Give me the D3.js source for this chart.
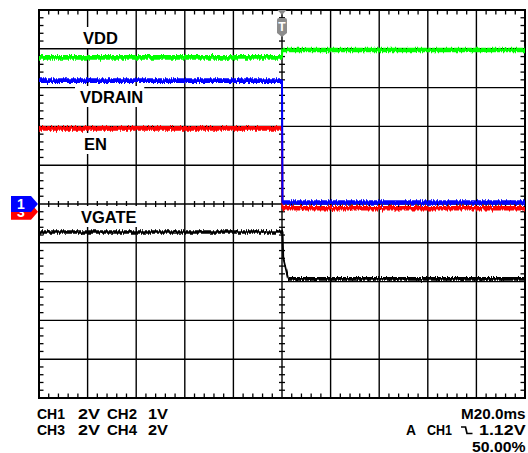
<!DOCTYPE html>
<html>
<head>
<meta charset="utf-8">
<script src="https://cdn.jsdelivr.net/npm/d3@7"></script>
<style>
  html, body { margin: 0; padding: 0; background: #fff; }
  svg { display: block; }
  text { font-family: "Liberation Sans", Arial, sans-serif; font-weight: bold; }
</style>
</head>
<body>
<svg id="chart" width="528" height="453"></svg>
<script>
// ---------- DATA (time in ms, level in divisions from screen centre) ----------
const timeRangeMs = [-100, 100];        // 20 ms/div, trigger at 0
const levelRangeDiv = [-5, 5];

const vddTrace    = [[-100, 3.78], [0.0, 3.78], [0.1, 3.97], [100, 3.97]];
const vdrainTrace = [[-100, 3.18], [0.0, 3.18], [0.2, 0.04], [100, 0.04]];
const enTrace     = [[-100, 1.95], [0.0, 1.95], [0.2, -0.11], [100, -0.11]];
const vgateTrace  = [[-100, -0.72], [0.2, -0.72], [0.5, -1.38], [2.6, -1.93], [100, -1.93]];

const traceNames  = ["VDD", "EN", "VGATE", "VDRAIN"];
const traceColors = ["#00ff00", "#ff0000", "#000000", "#0000ff"];

const channelMarkers = ["3", "1"];
const channelMarkerLevels = [-0.2, 0.0];
const channelMarkerColors = ["#ff0000", "#0000ff"];

const labelTexts = ["VDD", "VDRAIN", "EN", "VGATE"];

const settingsLeft = [["CH1", "2V", "CH2", "1V"], ["CH3", "2V", "CH4", "2V"]];
const timebaseText = "M20.0ms";
const triggerSource = ["A", "CH1"];
const triggerLevelText = "1.12V";
const triggerPosText = "50.00%";

// ---------- LAYOUT ----------
const svg = d3.select("#chart");
const L = 39, R = 525, T = 10, B = 398;
const x = d3.scaleLinear().domain(timeRangeMs).range([L, R]);
const y = d3.scaleLinear().domain(levelRangeDiv).range([B, T]);

// noise-like texture filter for traces (visual only)
const defs = svg.append("defs");
const f = defs.append("filter").attr("id", "rough")
  .attr("x", "-2%").attr("y", "-20%").attr("width", "104%").attr("height", "140%")
  .attr("color-interpolation-filters", "sRGB");
f.append("feTurbulence").attr("type", "fractalNoise").attr("baseFrequency", "0.8 0.04")
  .attr("numOctaves", 2).attr("seed", 7).attr("result", "turb");
f.append("feColorMatrix").attr("in", "turb").attr("type", "matrix")
  .attr("values", "0 0 0 0 0.5  0 1 0 0 0  0 0 1 0 0  0 0 0 0 1").attr("result", "map");
f.append("feDisplacementMap").attr("in", "SourceGraphic").attr("in2", "map")
  .attr("scale", 5).attr("xChannelSelector", "R").attr("yChannelSelector", "G");

// ---------- GRID ----------
const g = svg.append("g");
const majorT = d3.range(timeRangeMs[0] + 20, timeRangeMs[1], 20);
const majorV = d3.range(levelRangeDiv[0] + 1, levelRangeDiv[1], 1);
g.selectAll(".vline").data(majorT).join("line")
  .attr("x1", d => x(d)).attr("x2", d => x(d)).attr("y1", T).attr("y2", B)
  .attr("stroke", "#000").attr("stroke-width", 1.4);
g.selectAll(".hline").data(majorV).join("line")
  .attr("x1", L).attr("x2", R).attr("y1", d => y(d)).attr("y2", d => y(d))
  .attr("stroke", "#000").attr("stroke-width", 1.4);

const minorT = d3.range(timeRangeMs[0], timeRangeMs[1] + 0.001, 4).filter(d => Math.abs(d % 20) > 0.001);
const minorV = d3.range(levelRangeDiv[0], levelRangeDiv[1] + 0.001, 0.2)
  .filter(d => Math.abs(Math.round(d) - d) > 0.01);
const tk = 4.5;
g.selectAll(".tt").data(minorT).join("line")
  .attr("x1", d => x(d)).attr("x2", d => x(d)).attr("y1", T).attr("y2", T + tk)
  .attr("stroke", "#000").attr("stroke-width", 1.3);
g.selectAll(".bt").data(minorT).join("line")
  .attr("x1", d => x(d)).attr("x2", d => x(d)).attr("y1", B).attr("y2", B - tk)
  .attr("stroke", "#000").attr("stroke-width", 1.3);
g.selectAll(".lt").data(minorV).join("line")
  .attr("x1", L).attr("x2", L + tk).attr("y1", d => y(d)).attr("y2", d => y(d))
  .attr("stroke", "#000").attr("stroke-width", 1.3);
g.selectAll(".rt").data(minorV).join("line")
  .attr("x1", R).attr("x2", R - tk).attr("y1", d => y(d)).attr("y2", d => y(d))
  .attr("stroke", "#000").attr("stroke-width", 1.3);
g.selectAll(".ct").data(minorT).join("line")
  .attr("x1", d => x(d)).attr("x2", d => x(d)).attr("y1", y(0) - 3).attr("y2", y(0) + 3)
  .attr("stroke", "#000").attr("stroke-width", 1.3);
g.selectAll(".cv").data(minorV).join("line")
  .attr("x1", x(0) - 3).attr("x2", x(0) + 3).attr("y1", d => y(d)).attr("y2", d => y(d))
  .attr("stroke", "#000").attr("stroke-width", 1.3);
g.append("rect").attr("x", L).attr("y", T).attr("width", R - L).attr("height", B - T)
  .attr("fill", "none").attr("stroke", "#000").attr("stroke-width", 2);

// ---------- LABELS (white boxes hide grid) ----------
const labelPos = [[83, 44], [80, 103], [84, 150], [81, 223]];
const lg = svg.append("g");
labelTexts.forEach((t, i) => {
  const tx = lg.append("text").attr("x", labelPos[i][0]).attr("y", labelPos[i][1])
    .attr("font-size", 16.5).attr("fill", "#000").text(t);
  const bb = tx.node().getBBox();
  lg.insert("rect", "text").attr("x", bb.x - 5).attr("y", labelPos[i][1] - 17)
    .attr("width", bb.width + 6).attr("height", 21).attr("fill", "#fff");
});

// ---------- TRACES ----------
// thin stroke for the whole trace (edges), thick noisy band for the flat stretches
const line = d3.line().x(d => x(d[0])).y(d => y(d[1]));
const traces = [vddTrace, enTrace, vgateTrace, vdrainTrace];
const tg = svg.append("g").attr("filter", "url(#rough)");
traces.forEach((tr, i) => {
  const isGate = traceNames[i] === "VGATE";
  tg.append("path").datum(tr).attr("d", line)
    .attr("fill", "none").attr("stroke", traceColors[i])
    .attr("stroke-width", 2).attr("stroke-linejoin", "round")
    .attr("data-name", traceNames[i]);
  const flats = d3.pairs(tr).filter(([a, b]) => (b[0] - a[0]) > 1 && Math.abs(b[1] - a[1]) < 0.05);
  tg.selectAll(null).data(flats).join("path")
    .attr("d", d => line(d))
    .attr("fill", "none").attr("stroke", traceColors[i])
    .attr("stroke-width", isGate ? 3.6 : 4.6);
});

// ---------- TRIGGER MARKER ----------
const xc = x(0);
svg.append("path").attr("d", `M${xc - 4.5},${T} L${xc + 4.5},${T} L${xc},${T + 5} Z`).attr("fill", "#8c8c8c");
svg.append("path")
  .attr("d", `M${xc - 5},${T + 10} Q${xc - 5},${T + 8} ${xc - 3},${T + 8} L${xc + 3},${T + 8} Q${xc + 5},${T + 8} ${xc + 5},${T + 10} L${xc + 5},${T + 23} L${xc},${T + 27} L${xc - 5},${T + 23} Z`)
  .attr("fill", "#8c8c8c");
svg.append("text").attr("x", xc).attr("y", T + 20.5).attr("text-anchor", "middle")
  .attr("font-size", 12).attr("fill", "#fff").text("T");

// ---------- CHANNEL MARKERS ----------
channelMarkers.forEach((m, i) => {
  const yy = y(channelMarkerLevels[i]);
  svg.append("path")
    .attr("d", `M11,${yy - 8} L31,${yy - 8} L38,${yy} L31,${yy + 8} L11,${yy + 8} Z`)
    .attr("fill", channelMarkerColors[i]);
  if (i === channelMarkers.length - 1) {
    svg.append("text").attr("x", 21).attr("y", yy + 5).attr("text-anchor", "middle")
      .attr("font-size", 14).attr("fill", "#fff").text(m);
  }
});
defs.append("clipPath").attr("id", "clip3").append("rect")
  .attr("x", 11).attr("y", y(channelMarkerLevels[1]) + 8).attr("width", 30).attr("height", 10);
svg.append("text").attr("clip-path", "url(#clip3)").attr("x", 21)
  .attr("y", y(channelMarkerLevels[0]) + 5).attr("text-anchor", "middle")
  .attr("font-size", 14).attr("fill", "#fff").text(channelMarkers[0]);

// ---------- SETTINGS TEXT ----------
const fs = 15;
function tok(str, x0, x1, yb) {
  svg.append("text").attr("x", x0).attr("y", yb).attr("font-size", fs).attr("fill", "#000")
    .attr("textLength", x1 - x0).attr("lengthAdjust", "spacingAndGlyphs").text(str);
}
const colX = [[37, 65], [78, 100], [107, 137], [148, 168]];
settingsLeft.forEach((row, r) => {
  row.forEach((s, c) => tok(s, colX[c][0], colX[c][1], 418.5 + r * 16.5));
});
tok(timebaseText, 461, 525.5, 418.5);
tok(triggerSource[0], 406, 416, 435);
tok(triggerSource[1], 427, 452, 435);
svg.append("path").attr("d", "M461,427 H465.5 L467,433.5 H472.5")
  .attr("fill", "none").attr("stroke", "#000").attr("stroke-width", 1.7);
tok(triggerLevelText, 479, 525.5, 435);
tok(triggerPosText, 472, 525.5, 451.5);
</script>
</body>
</html>
